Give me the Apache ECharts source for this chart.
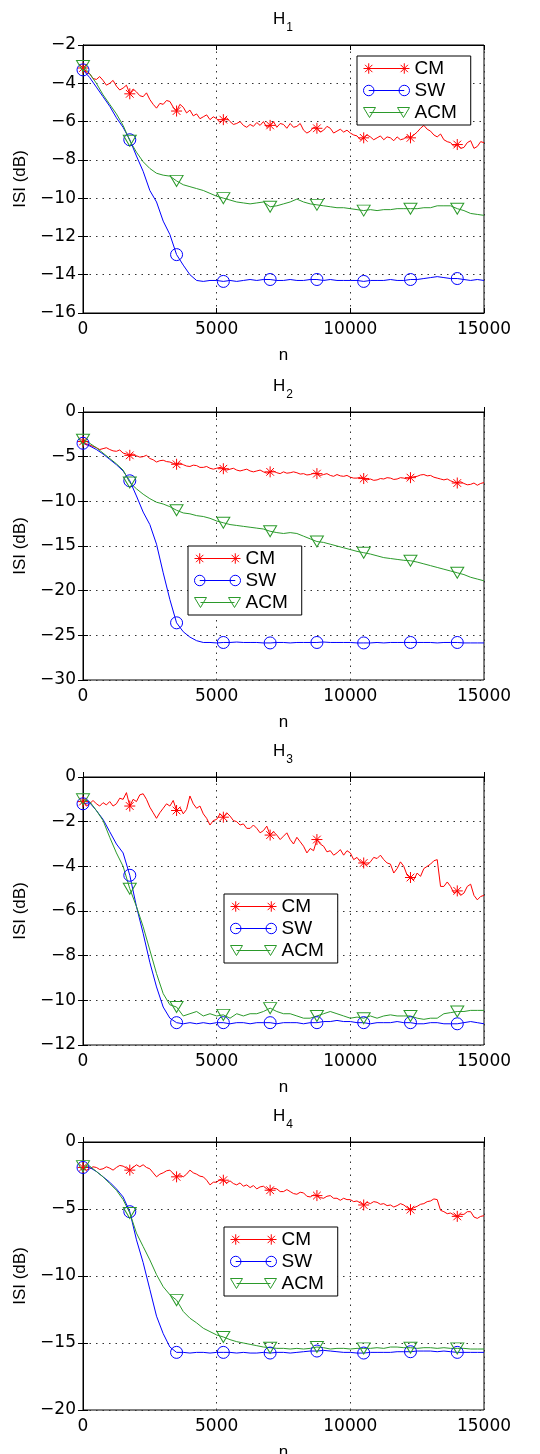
<!DOCTYPE html>
<html>
<head>
<meta charset="utf-8">
<script src="https://cdn.jsdelivr.net/npm/echarts@6/dist/echarts.min.js"></script>
<style>
  html, body { margin: 0; padding: 0; background: #fff; }
  #chart { width: 540px; height: 1454px; }
</style>
</head>
<body>
<div id="chart"></div>
<script>
// sample positions (n): SW / ACM every 250, CM every 125 (noisier)
const sampleN = [0,250,500,750,1000,1250,1500,1750,2000,2250,
  2500,2750,3000,3250,3500,3750,4000,4250,4500,4750,
  5000,5250,5500,5750,6000,6250,6500,6750,7000,7250,
  7500,7750,8000,8250,8500,8750,9000,9250,9500,9750,
  10000,10250,10500,10750,11000,11250,11500,11750,12000,12250,
  12500,12750,13000,13250,13500,13750,14000,14250,14500,14750,15000];
const sampleNFine = [0,125,250,375,500,625,750,875,1000,1125,1250,1375,1500,1625,1750,1875,
  2000,2125,2250,2375,2500,2625,2750,2875,3000,3125,3250,3375,3500,3625,3750,3875,
  4000,4125,4250,4375,4500,4625,4750,4875,5000,5125,5250,5375,5500,5625,5750,5875,
  6000,6125,6250,6375,6500,6625,6750,6875,7000,7125,7250,7375,7500,7625,7750,7875,
  8000,8125,8250,8375,8500,8625,8750,8875,9000,9125,9250,9375,9500,9625,9750,9875,
  10000,10125,10250,10375,10500,10625,10750,10875,11000,11125,11250,11375,11500,11625,11750,11875,
  12000,12125,12250,12375,12500,12625,12750,12875,13000,13125,13250,13375,13500,13625,13750,13875,
  14000,14125,14250,14375,14500,14625,14750,14875,15000];
const markerN = [0,1750,3500,5250,7000,8750,10500,12250,14000];

const panelTitles = ['1', '2', '3', '4'];
const yMin = [-16, -30, -12, -20];
const yMax = [-2, 0, 0, 0];
const yStep = [2, 5, 2, 5];

// H1
const h1CM = [-3.2,-3.45,-3.5,-3.75,-3.8,-3.65,-3.85,-4.1,-4.0,-3.85,-4.15,-4.35,-4.25,-4.1,-4.55,-4.3,
  -4.45,-4.65,-4.7,-4.5,-4.85,-5.1,-5.3,-5.05,-5.1,-4.9,-4.95,-5.25,-5.45,-5.1,-5.25,-5.55,
  -5.4,-5.7,-5.6,-5.85,-5.75,-5.65,-5.9,-5.75,-5.85,-6.05,-5.9,-5.8,-6.0,-6.15,-6.1,-6.0,
  -6.2,-6.3,-6.15,-6.25,-6.05,-6.2,-6.0,-6.3,-6.2,-6.0,-6.3,-6.1,-6.15,-6.35,-6.1,-6.3,
  -6.25,-6.1,-6.45,-6.6,-6.5,-6.3,-6.35,-6.55,-6.45,-6.25,-6.35,-6.6,-6.5,-6.4,-6.55,-6.45,
  -6.6,-6.7,-6.75,-6.95,-6.85,-6.7,-6.8,-6.95,-6.85,-6.75,-6.95,-6.8,-6.85,-7.0,-6.8,-6.95,
  -6.9,-6.75,-6.85,-6.7,-6.55,-6.35,-6.2,-6.4,-6.5,-6.7,-6.8,-6.65,-6.95,-7.05,-7.1,-7.3,
  -7.2,-7.4,-7.35,-7.1,-7.0,-7.4,-7.3,-7.05,-7.1];
const h1SW = [-3.3,-3.7,-4.2,-4.7,-5.2,-5.8,-6.3,-6.95,-7.8,-8.6,
  -9.6,-10.2,-11.2,-11.9,-12.95,-13.5,-14.0,-14.3,-14.35,-14.3,
  -14.3,-14.35,-14.3,-14.35,-14.3,-14.25,-14.3,-14.25,-14.25,-14.3,
  -14.3,-14.25,-14.3,-14.3,-14.25,-14.25,-14.3,-14.25,-14.3,-14.3,
  -14.3,-14.3,-14.35,-14.3,-14.3,-14.3,-14.25,-14.3,-14.3,-14.25,
  -14.25,-14.2,-14.15,-14.1,-14.15,-14.2,-14.2,-14.25,-14.3,-14.25,-14.3];
const h1ACM = [-3.1,-3.5,-4.0,-4.6,-5.1,-5.6,-6.2,-7.0,-7.6,-8.1,
  -8.45,-8.7,-8.8,-8.85,-9.1,-9.3,-9.4,-9.5,-9.6,-9.75,
  -9.9,-10.0,-10.1,-10.2,-10.25,-10.3,-10.25,-10.2,-10.45,-10.4,
  -10.3,-10.2,-10.05,-10.2,-10.3,-10.35,-10.4,-10.45,-10.5,-10.5,
  -10.55,-10.6,-10.65,-10.6,-10.65,-10.6,-10.6,-10.55,-10.55,-10.55,
  -10.55,-10.5,-10.5,-10.4,-10.4,-10.4,-10.55,-10.65,-10.8,-10.85,-10.9];

// H2
const h2CM = [-3.3,-3.55,-3.7,-3.85,-4.0,-4.2,-4.1,-4.0,-4.2,-4.35,-4.4,-4.25,-4.6,-4.7,-4.85,-4.7,
  -4.9,-5.05,-5.0,-4.85,-5.2,-5.35,-5.6,-5.45,-5.4,-5.55,-5.6,-5.75,-5.85,-5.7,-5.9,-6.05,
  -6.1,-5.95,-6.0,-6.2,-6.2,-6.1,-6.3,-6.4,-6.3,-6.2,-6.35,-6.5,-6.4,-6.3,-6.5,-6.6,
  -6.5,-6.4,-6.6,-6.7,-6.6,-6.5,-6.7,-6.85,-6.7,-6.6,-6.8,-6.9,-6.7,-6.85,-6.8,-6.7,
  -6.8,-6.95,-6.9,-7.05,-7.0,-6.85,-6.9,-7.1,-7.0,-6.9,-7.1,-7.2,-7.0,-7.15,-7.2,-7.1,
  -7.3,-7.4,-7.4,-7.3,-7.45,-7.6,-7.5,-7.65,-7.6,-7.45,-7.5,-7.35,-7.4,-7.55,-7.5,-7.35,
  -7.4,-7.5,-7.35,-7.25,-7.2,-7.05,-7.0,-7.15,-7.1,-7.3,-7.4,-7.5,-7.6,-7.5,-7.7,-7.85,
  -7.95,-7.8,-8.0,-8.15,-8.1,-7.95,-8.2,-8.0,-7.9];
const h2SW = [-3.5,-3.8,-4.2,-4.7,-5.3,-5.9,-6.6,-7.7,-9.4,-11.2,
  -12.6,-14.8,-18.0,-21.0,-23.6,-24.6,-25.2,-25.6,-25.8,-25.8,
  -25.85,-25.8,-25.8,-25.75,-25.8,-25.8,-25.8,-25.85,-25.85,-25.8,
  -25.8,-25.85,-25.8,-25.8,-25.8,-25.8,-25.75,-25.8,-25.8,-25.8,
  -25.8,-25.85,-25.85,-25.85,-25.8,-25.85,-25.8,-25.8,-25.8,-25.8,
  -25.8,-25.8,-25.8,-25.85,-25.8,-25.8,-25.8,-25.85,-25.85,-25.85,-25.85];
const h2ACM = [-3.1,-3.5,-4.0,-4.6,-5.2,-5.8,-6.5,-7.9,-8.6,-9.2,
  -9.7,-10.1,-10.3,-10.6,-11.0,-11.3,-11.4,-11.6,-11.7,-11.9,
  -12.2,-12.4,-12.6,-12.7,-12.8,-12.9,-13.0,-13.1,-13.35,-13.5,
  -13.6,-13.5,-13.6,-13.9,-14.2,-14.5,-14.6,-14.8,-15.0,-15.2,
  -15.4,-15.6,-15.75,-15.9,-16.1,-16.3,-16.4,-16.5,-16.6,-16.65,
  -16.8,-17.0,-17.2,-17.4,-17.6,-17.8,-18.0,-18.2,-18.5,-18.7,-18.9];

// H3
const h3CM = [-1.1,-1.3,-1.2,-1.05,-1.2,-1.3,-1.15,-1.25,-1.1,-1.3,-1.2,-0.95,-1.0,-0.7,-1.3,-1.0,
  -1.1,-0.8,-0.75,-1.0,-1.35,-1.6,-1.85,-1.6,-1.4,-1.2,-1.3,-1.05,-1.5,-1.35,-1.65,-1.45,
  -0.85,-1.2,-1.4,-1.3,-1.65,-1.85,-2.15,-1.95,-1.9,-1.65,-1.8,-1.6,-1.75,-1.95,-2.0,-2.15,
  -2.1,-2.3,-2.3,-2.15,-2.3,-2.5,-2.4,-2.2,-2.6,-2.45,-2.6,-2.8,-2.65,-2.5,-2.8,-3.0,
  -2.7,-2.9,-3.1,-3.4,-3.2,-3.3,-2.8,-3.0,-3.1,-3.35,-3.3,-3.5,-3.4,-3.25,-3.5,-3.3,
  -3.4,-3.7,-3.6,-3.8,-3.85,-3.95,-3.8,-3.6,-3.65,-3.5,-3.7,-3.85,-3.9,-4.3,-4.1,-3.8,
  -4.0,-4.4,-4.5,-4.6,-4.3,-4.45,-4.1,-4.0,-3.9,-3.75,-3.7,-4.9,-4.9,-4.7,-4.9,-5.2,
  -5.1,-5.3,-5.2,-4.9,-4.8,-5.3,-5.5,-5.35,-5.3];
const h3SW = [-1.2,-1.15,-1.5,-1.9,-2.45,-3.0,-3.4,-4.4,-5.8,-7.0,
  -8.3,-9.4,-10.3,-10.8,-11.0,-11.05,-11.0,-11.05,-11.0,-11.05,
  -11.0,-11.0,-11.05,-11.0,-11.0,-11.05,-11.0,-11.0,-11.0,-11.05,
  -11.0,-11.0,-11.0,-11.05,-11.0,-11.0,-10.95,-10.95,-10.9,-10.95,
  -10.95,-11.0,-11.0,-11.05,-11.0,-11.0,-11.0,-10.95,-11.0,-11.0,
  -11.05,-11.05,-11.0,-11.0,-11.05,-11.05,-11.05,-11.0,-10.95,-11.0,-11.05];
const h3ACM = [-1.0,-1.1,-1.5,-1.95,-2.7,-3.4,-4.0,-5.0,-5.8,-6.7,
  -7.75,-8.8,-9.7,-10.2,-10.3,-10.7,-10.6,-10.5,-10.7,-10.6,
  -10.7,-10.65,-10.8,-10.6,-10.7,-10.6,-10.6,-10.5,-10.35,-10.5,
  -10.6,-10.6,-10.7,-10.8,-10.8,-10.7,-10.6,-10.5,-10.6,-10.7,
  -10.8,-10.75,-10.8,-10.7,-10.8,-10.7,-10.65,-10.7,-10.7,-10.7,
  -10.8,-10.85,-10.8,-10.8,-10.6,-10.55,-10.5,-10.5,-10.45,-10.45,-10.45];

// H4
const h4CM = [-1.9,-2.1,-2.0,-1.85,-1.9,-2.05,-2.0,-1.85,-1.95,-2.1,-1.9,-1.75,-1.8,-1.95,-2.1,-1.9,
  -1.7,-1.85,-1.7,-1.9,-2.0,-2.3,-2.6,-2.4,-2.3,-2.15,-2.1,-2.35,-2.6,-2.45,-2.6,-2.4,
  -2.1,-2.3,-2.4,-2.55,-2.6,-2.85,-3.2,-3.0,-3.0,-2.8,-2.85,-3.05,-2.9,-3.1,-3.2,-3.05,
  -3.3,-3.2,-3.4,-3.25,-3.5,-3.35,-3.3,-3.5,-3.6,-3.45,-3.5,-3.7,-3.7,-3.55,-3.7,-3.85,
  -3.9,-3.75,-3.8,-4.05,-4.1,-3.95,-4.0,-4.15,-4.2,-4.05,-4.0,-4.2,-4.2,-4.35,-4.2,-4.3,
  -4.3,-4.45,-4.4,-4.55,-4.7,-4.5,-4.6,-4.45,-4.5,-4.65,-4.6,-4.75,-4.7,-4.85,-4.75,-4.6,
  -4.7,-4.9,-5.05,-4.9,-4.8,-4.65,-4.6,-4.45,-4.4,-4.25,-4.3,-5.1,-5.2,-5.35,-5.3,-5.45,
  -5.55,-5.4,-5.4,-5.2,-5.2,-5.6,-5.7,-5.55,-5.5];
const h4SW = [-1.9,-1.9,-2.2,-2.6,-3.0,-3.5,-4.1,-5.2,-7.3,-9.0,
  -11.0,-13.0,-14.3,-15.3,-15.7,-15.7,-15.75,-15.7,-15.7,-15.75,
  -15.7,-15.7,-15.7,-15.75,-15.7,-15.75,-15.75,-15.7,-15.75,-15.7,
  -15.7,-15.75,-15.7,-15.65,-15.6,-15.6,-15.55,-15.6,-15.65,-15.7,
  -15.7,-15.75,-15.75,-15.7,-15.7,-15.7,-15.7,-15.65,-15.65,-15.65,
  -15.6,-15.6,-15.6,-15.65,-15.6,-15.65,-15.7,-15.7,-15.7,-15.7,-15.7];
const h4ACM = [-1.8,-1.8,-2.2,-2.6,-3.1,-3.6,-4.3,-5.3,-6.8,-7.8,
  -8.8,-9.9,-10.8,-11.4,-11.8,-12.65,-13.15,-13.5,-13.9,-14.15,
  -14.4,-14.55,-14.75,-14.9,-15.0,-15.1,-15.2,-15.3,-15.35,-15.4,
  -15.4,-15.45,-15.4,-15.45,-15.4,-15.3,-15.35,-15.45,-15.4,-15.4,
  -15.45,-15.4,-15.4,-15.4,-15.35,-15.4,-15.3,-15.3,-15.35,-15.35,
  -15.4,-15.35,-15.35,-15.4,-15.35,-15.4,-15.4,-15.4,-15.45,-15.45,-15.45];

const panels = [
  { CM: h1CM, SW: h1SW, ACM: h1ACM },
  { CM: h2CM, SW: h2SW, ACM: h2ACM },
  { CM: h3CM, SW: h3SW, ACM: h3ACM },
  { CM: h4CM, SW: h4SW, ACM: h4ACM }
];
const xs = { CM: sampleNFine, SW: sampleN, ACM: sampleN };

// styles
const colors = { CM: '#ff0000', SW: '#0000ff', ACM: '#2b9a2b' };
const markers = {
  CM: { symbol: 'path://M0,5L10,5M5,0L5,10M1.5,1.5L8.5,8.5M8.5,1.5L1.5,8.5', size: 11 },
  SW: { symbol: 'circle', size: 12 },
  ACM: { symbol: 'path://M0,0L12,0L6,10Z', size: [13, 11] }
};
const legendIcons = {
  CM: 'path://M1,6L11,6M6,1L6,11M2.5,2.5L9.5,9.5M9.5,2.5L2.5,9.5M6,6L40,6M35,6L45,6M40,1L40,11M36.5,2.5L43.5,9.5M43.5,2.5L36.5,9.5',
  SW: 'path://M1,6A5,5,0,1,0,11,6A5,5,0,1,0,1,6M6,6L40,6M35,6A5,5,0,1,0,45,6A5,5,0,1,0,35,6',
  ACM: 'path://M0,1L12,1L6,11ZM34,1L46,1L40,11ZM6,6L40,6'
};
const names = ['CM', 'SW', 'ACM'];

const panelTop = [45, 412, 777, 1142];
const legendPos = [[357, 56], [188, 546], [224, 894], [224, 1227]];

const minus = v => String(v).replace('-', '\u2212');
const tickFont = { fontFamily: 'DejaVu Sans', fontSize: 17, color: '#000' };

const grid = [], xAxis = [], yAxis = [], title = [], legend = [], series = [];

panels.forEach((p, i) => {
  grid.push({ left: 83, width: 401, top: panelTop[i], height: 268, show: true,
    borderColor: '#000', borderWidth: 1, backgroundColor: '#fff', outerBoundsMode: 'none' });

  const tick = { show: true, inside: true, length: 5, lineStyle: { color: '#000', width: 1 } };
  const dotted = { show: true, lineStyle: { color: '#333', width: 1, type: [1.5, 5] } };

  xAxis.push({ type: 'value', gridIndex: i, min: 0, max: 15000, interval: 5000,
    name: 'n', nameLocation: 'middle', nameGap: 34,
    nameTextStyle: { fontFamily: 'Liberation Sans', fontSize: 17, color: '#000' },
    axisLine: { lineStyle: { color: '#000' } }, axisTick: tick,
    axisLabel: Object.assign({ margin: 8, formatter: v => String(v) }, tickFont), splitLine: dotted });
  xAxis.push({ type: 'value', gridIndex: i, position: 'top', min: 0, max: 15000, interval: 5000,
    axisLine: { lineStyle: { color: '#000' } }, axisTick: tick,
    axisLabel: { show: false }, splitLine: { show: false } });

  yAxis.push({ type: 'value', gridIndex: i, min: yMin[i], max: yMax[i], interval: yStep[i],
    name: 'ISI (dB)', nameLocation: 'middle', nameGap: 46,
    nameTextStyle: { fontFamily: 'Liberation Sans', fontSize: 17, color: '#000' },
    axisLine: { show: true, lineStyle: { color: '#000' } }, axisTick: tick,
    axisLabel: Object.assign({ margin: 7, formatter: minus }, tickFont), splitLine: dotted });
  yAxis.push({ type: 'value', gridIndex: i, position: 'right', min: yMin[i], max: yMax[i], interval: yStep[i],
    axisLine: { show: true, lineStyle: { color: '#000' } }, axisTick: tick,
    axisLabel: { show: false }, splitLine: { show: false } });

  title.push({ text: '{h|H}{s|' + panelTitles[i] + '}', left: 273, top: panelTop[i] - 41, padding: 0,
    textStyle: { fontWeight: 'normal', rich: {
      h: { fontFamily: 'Liberation Sans', fontSize: 17, fontWeight: 'normal', color: '#000' },
      s: { fontFamily: 'Liberation Sans', fontSize: 12, fontWeight: 'normal', color: '#000', padding: [18, 0, 0, 1] }
    } } });

  legend.push({ left: legendPos[i][0], top: legendPos[i][1], orient: 'vertical',
    selectedMode: false, itemWidth: 46, itemHeight: 12, itemGap: 3, padding: [3, 14, 3, 6],
    backgroundColor: '#fff', borderColor: '#000', borderWidth: 1, borderRadius: 0,
    textStyle: { fontFamily: 'Liberation Sans', fontSize: 19, color: '#000' },
    data: names.map(nm => ({ name: nm, icon: legendIcons[nm],
      itemStyle: { color: 'transparent', borderColor: colors[nm], borderWidth: 1 } })) });

  names.forEach(nm => {
    const m = markers[nm];
    const xv = xs[nm];
    series.push({
      name: nm, type: 'line', xAxisIndex: i * 2, yAxisIndex: i * 2,
      data: p[nm].map((v, k) => ({ value: [xv[k], v],
        symbol: markerN.includes(xv[k]) ? m.symbol : 'none' })),
      symbolSize: m.size, showSymbol: true, showAllSymbol: true,
      lineStyle: { color: colors[nm], width: 1 },
      itemStyle: { color: 'transparent', borderColor: colors[nm], borderWidth: 1 },
      emphasis: { disabled: true }, silent: true
    });
  });
});

const chart = echarts.init(document.getElementById('chart'), null, { renderer: 'canvas' });
chart.setOption({ animation: false, backgroundColor: '#fff', grid, xAxis, yAxis, title, legend, series });
</script>
</body>
</html>
